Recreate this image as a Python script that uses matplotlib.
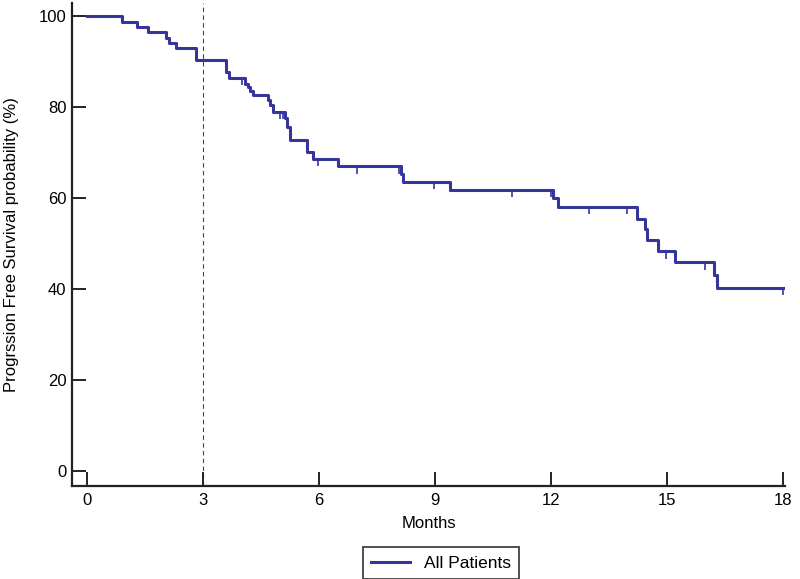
import numpy as np
import matplotlib
matplotlib.use("Agg")
import matplotlib.pyplot as plt

# ---- data ----
event_times = [0, 0.91, 1.31, 1.59, 2.06, 2.13, 2.31, 2.83, 3.60, 3.69, 4.10, 4.16, 4.23,
               4.31, 4.68, 4.75, 4.83, 5.13, 5.19, 5.26, 5.71, 5.86, 6.50, 8.13, 8.18,
               9.40, 12.07, 12.19, 14.22, 14.43, 14.50, 14.78, 15.22, 16.22, 16.30]
survival = [100, 98.8, 97.7, 96.6, 95.3, 94.2, 93.0, 90.3, 87.7, 86.5, 85.2, 84.4, 83.6,
            82.6, 81.5, 80.4, 79.0, 77.7, 75.7, 72.7, 70.2, 68.6, 67.0, 65.4, 63.6,
            61.8, 60.1, 58.0, 55.5, 53.1, 50.8, 48.3, 45.9, 43.2, 40.3]
censor_times = [4.01, 4.99, 5.07, 5.99, 6.99, 8.08, 8.99, 11.0, 12.0, 13.0, 13.98,
                14.99, 16.0, 18.0]
end_time = 18.0
x_ticks = [0, 3, 6, 9, 12, 15, 18]
y_ticks = [0, 20, 40, 60, 80, 100]
series_name = "All Patients"
x_label = "Months"
y_label = "Progrssion Free Survival probability (%)"
landmark = 3

plt.rcParams['font.family'] = ['Liberation Sans Narrow', 'Liberation Sans', 'DejaVu Sans']

fig = plt.figure(figsize=(8, 5.79), dpi=100)
ax = fig.add_axes([72/800, 1-486/579, (785-72)/800, (486-3)/579])

col = '#35359b'
t = np.array(event_times + [end_time])
s = np.array(survival + [survival[-1]])
ax.step(t, s, where='post', color=col, lw=2.2, zorder=3)

ct = np.array(censor_times)
idx = np.searchsorted(np.array(event_times), ct, side='right') - 1
cv = np.array(survival)[idx]
ax.vlines(ct, cv - 1.6, cv, color=col, lw=1.2, zorder=3)

ax.axvline(landmark, color='#444444', lw=0.8, ls=(0, (4, 3)), zorder=1)

ax.set_xlim(-0.38, 18.06)
ax.set_ylim(-3.3, 102.9)
ax.set_xticks(x_ticks)
ax.set_yticks(y_ticks)
for sp in ['top', 'right']:
    ax.spines[sp].set_visible(False)
for sp in ['left', 'bottom']:
    ax.spines[sp].set_linewidth(1.6)
    ax.spines[sp].set_color('#222222')
ax.tick_params(direction='in', length=10, width=1.4, color='#222222',
               labelsize=12, pad=5)
ax.tick_params(axis='y', pad=4)
ax.set_xlabel(x_label, fontsize=12, labelpad=6)
ax.set_ylabel(y_label, fontsize=12, labelpad=14)

leg = fig.legend([plt.Line2D([], [], color=col, lw=2.2)], [series_name],
                 loc='center', bbox_to_anchor=(441/800, 1-563/579),
                 fontsize=12.5, frameon=True, fancybox=False, handlelength=2.2,
                 borderpad=0.5)
leg.get_frame().set_edgecolor('#222222')
leg.get_frame().set_linewidth(1.4)

fig.savefig('out.png', dpi=100)
